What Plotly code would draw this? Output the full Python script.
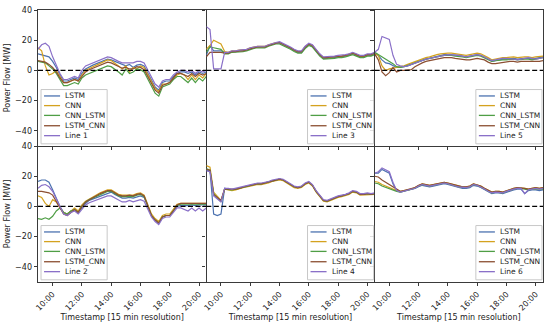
import pandas as pd
import plotly.graph_objects as go
from plotly.subplots import make_subplots

# ---------------- data ----------------
times = pd.date_range("2021-06-01 09:00", "2021-06-01 20:30", freq="15min")
model_names = ["LSTM", "CNN", "CNN_LSTM", "LSTM_CNN"]

# Line 1
l1_lstm = [11, 10.5, 10, 9, 6, 2, -3, -7, -7, -6, -5, -6, -2, 1, 2.5, 3.5, 4.5, 5.5, 6.5, 7.5, 7, 6, 4.5, 4, 3, 4, 2, 3.5, 4, 3, -2, -7, -11, -13, -8, -7, -7, -4, -2, -1, -1, -2, -1, -3, -1, -2, -1]
l1_cnn = [15, 13, 3, -3, -2, 0, -4, -8, -8, -7, -6, -7, -3, 0, 1.5, 2.5, 3.5, 4.5, 6, 7, 6.5, 5, 3, 1, 3, -1, 2, 1, 3, 2, -3, -8, -12, -14, -9, -9, -8, -5, -3, -2, -3, -6, -3, -6, -3, -5, -2]
l1_cnn_lstm = [6, 5.5, 5, 3, 1, -2, -6, -10, -10, -9, -8, -9, -5, -3, -2, -1, 0, 1, 2, 3, 2.5, 1, -1, -3, 1, -2, -1, 1, 0.5, -1, -6, -11, -15, -17, -11, -10, -9, -6, -4, -4, -6, -8, -5, -8, -5, -7, -4]
l1_lstm_cnn = [6.5, 6, 5.5, 4, 2, -1, -5, -8, -8, -7, -6, -7, -4, -1, 0.5, 1.5, 2.5, 3.5, 4.5, 5.5, 5, 4, 2.5, 1.5, 2, 1, 1, 2.5, 2, 0.5, -4, -9, -13, -15, -10, -9, -8, -5, -2, -2, -3, -4, -2, -4, -2, -3, -2]
l1_actual = [14, 17, 18, 16, 9, 3, -2, -6, -6, -5, -4, -5, 0, 3, 4, 5, 6, 7, 8, 9, 8.5, 7, 6, 5, 5, 4.5, 5, 6, 6, 5, 0, -5, -9, -11, -7, -6, -6, -3, -1, 0, 0, -1, 0, -2, 0, -1, 0]

# Line 2
l2_lstm = [16.5, 17.5, 17.5, 16, 11, 5, 0, -4, -5, -3, -2, -4, -1, 2, 4, 5, 6, 7, 8, 9, 9.5, 8, 6.5, 5.5, 5.5, 6, 5.5, 6.5, 7, 6, 0, -6, -9, -11, -7, -6, -6, -3, 0, 0.5, 0.5, 0.5, 1, 0.5, 1, 1, 1]
l2_cnn = [7, 6, 2, 0, 4.5, 3, -1, -4, -5, -3, -1, -3, 1, 3.5, 5, 6, 7.5, 9, 10, 11, 11, 9.5, 8, 7.5, 7.5, 8, 7.5, 8.5, 9, 7.5, 1, -5, -8, -10, -6, -5, -5, -2, 1.5, 2, 2, 2, 2, 2, 2, 2, 2]
l2_cnn_lstm = [-8, -8.5, -7.5, -8.5, -6.5, -3, -1, -4, -5, -3, -2, -4, 0, 3, 4.5, 5.5, 7, 8, 9, 10, 10, 8.5, 7, 6.5, 6.5, 7, 6.5, 7.5, 8, 6.5, 0, -6, -9, -11, -7, -6, -6, -3, 0.5, 1.5, 1.5, 1.5, 1.5, 1.5, 1.5, 1.5, 1.5]
l2_lstm_cnn = [10, 10, 9.5, 9, 7.5, 3, -1, -5, -6, -4, -2, -4, 0, 3, 4.5, 5.5, 7, 8.5, 9.5, 10.5, 10.5, 9, 7.5, 7, 7, 7.5, 7, 8, 8.5, 7, 0, -6, -9, -11, -7, -6, -6, -3, 1, 2, 2, 2, 2, 2, 2, 2, 2]
l2_actual = [12, 14, 14.5, 13, 10, 5, 0, -5, -6, -4, -3, -5, -2, 1, 2.5, 3.5, 4.5, 5.5, 6.5, 7, 7, 5.5, 4, 3, 3, 4, 3, 4, 4.5, 3.5, -2, -7, -10, -12, -8, -7, -7, -4, -1, -1, -2, -3, -1, -3, -1, -3, -1]

# Line 3
l3_lstm = [10, 16.5, 13, 13, 13, 12, 11.5, 12.5, 12.5, 13, 13, 13.5, 14.5, 15, 15.5, 15.5, 15.5, 16.5, 17.5, 18, 18, 17, 16, 14.5, 13, 12, 12, 15, 17, 16, 13, 10, 8, 8, 8.5, 8.5, 9, 9, 9.5, 10, 11, 10, 9, 9, 10, 10, 11]
l3_cnn = [14, 16.5, 20, 19, 17.5, 12.5, 12, 13, 13, 13.5, 13.5, 14, 15, 15.5, 16, 16, 16, 17, 18, 18.5, 18.5, 17.5, 16.5, 15, 13.5, 12.5, 12.5, 15.5, 17.5, 16.5, 13.5, 10.5, 8.5, 8.5, 9, 9, 9.5, 9.5, 10, 10.5, 11.5, 10.5, 9.5, 9.5, 10.5, 10.5, 11.5]
l3_cnn_lstm = [12, 15.5, 15, 14.5, 14, 11, 11, 12, 12, 12.5, 12.5, 13, 14, 14.5, 15, 15, 15, 16, 17, 17.5, 17.5, 16.5, 15.5, 14, 12.5, 11.5, 11.5, 14.5, 16.5, 15.5, 12.5, 9.5, 7.5, 7.5, 8, 8, 8.5, 8.5, 9, 9.5, 10.5, 9.5, 8.5, 8.5, 9.5, 9.5, 10.5]
l3_lstm_cnn = [9, 12, 12, 12, 12, 11.5, 11.5, 12.5, 12.5, 13, 13, 13.5, 14.5, 15, 15.5, 15.5, 15.5, 16.5, 17.5, 18, 18.5, 17.5, 16.5, 15, 13.5, 12.5, 12.5, 15.5, 17.5, 16.5, 13.5, 10.5, 8.5, 8.5, 9, 9, 9.5, 9.5, 10, 10.5, 11.5, 10.5, 9.5, 9.5, 10.5, 10.5, 11.5]
l3_actual = [29, 27, 1, 1, 1, 12, 12, 13, 13, 13.5, 13.5, 14, 15, 15.5, 16, 16, 16, 17, 18, 18.5, 19, 18, 17, 15.5, 14, 13, 13, 16, 18, 17, 14, 11, 9, 9, 9.5, 9.5, 10, 10, 10.5, 11, 12, 11, 10, 10, 11, 11, 12]

# Line 4
l4_lstm = [24, 23.5, -5, -6, -5, 12, 11.5, 11, 11.5, 12, 13, 13.5, 14, 14.5, 15, 15, 15.5, 16, 17, 17.5, 18, 17.5, 16, 14.5, 13, 12.5, 13, 15, 16, 14, 10, 7, 4, 3.5, 4.5, 6, 6.5, 7, 7.5, 8.5, 10, 9.5, 8, 8, 8.5, 8, 8.5]
l4_cnn = [27, 26, 9.5, 7, 4, 11.5, 11, 10.5, 11, 11.5, 12.5, 13, 13.5, 14, 14.5, 14.5, 15, 15.5, 16.5, 17, 17.5, 17, 15.5, 14, 12.5, 12, 12.5, 14.5, 15.5, 13.5, 9.5, 6.5, 3.5, 3, 4, 5.5, 6, 6.5, 7, 8, 9.5, 9, 7.5, 7.5, 8, 7.5, 8]
l4_cnn_lstm = [25, 24, 8.5, 6, 3, 11.5, 11, 11, 11.5, 12, 13, 13.5, 14, 14.5, 15, 15, 15.5, 16, 17, 17.5, 18, 17.5, 16, 14.5, 13, 12.5, 13, 15, 16, 14, 10, 7, 4, 3.5, 4.5, 6, 6.5, 7, 7.5, 8.5, 10, 9.5, 8, 8, 8.5, 8, 8.5]
l4_lstm_cnn = [24.5, 24, 8, 6, 4, 11.5, 11.5, 11, 11.5, 12, 13, 13.5, 14, 14.5, 15, 15, 15.5, 16, 17, 17.5, 18, 17.5, 16, 14.5, 13, 12.5, 13, 15, 16, 14, 10, 7, 4, 3.5, 4.5, 6, 6.5, 7, 7.5, 8.5, 10, 9.5, 8, 8, 8.5, 8, 8.5]
l4_actual = [23.5, 23, 7, 5, 3, 12, 12, 11.5, 12, 12.5, 13.5, 14, 14.5, 15, 15.5, 15.5, 16, 16.5, 17.5, 18, 18.5, 18, 16.5, 15, 13.5, 13, 13.5, 15.5, 16.5, 14.5, 10.5, 7.5, 4.5, 4, 5, 6.5, 7, 7.5, 8, 9, 10.5, 10, 8.5, 8.5, 9, 8.5, 9]

# Line 5
l5_lstm = [12, 10, 7, 5, 4.5, 3.5, 2, 2, 2.5, 3, 4, 5, 6, 7, 7.5, 8, 8.5, 9.5, 10, 10.5, 10.5, 10.5, 10, 10, 9.5, 9, 9.5, 10, 10.5, 10, 9, 7.5, 6, 6.5, 7, 7.5, 7.5, 8, 8, 7.5, 8, 8, 8, 7.5, 8, 8.5, 9]
l5_cnn = [11, 10, 3, 0, 1, 1.5, 2, 2.5, 3, 4, 5, 6, 7, 8, 8.5, 9, 9.5, 10.5, 11, 11.5, 11.5, 11.5, 11, 11, 10.5, 10, 10.5, 11, 11.5, 11, 10, 8.5, 7, 7.5, 8, 8.5, 8.5, 9, 9, 8.5, 9, 9, 9, 8.5, 9, 9.5, 9.5]
l5_cnn_lstm = [12, 10.5, 9, 7.5, 6.5, 4.5, 2.5, 2, 2.5, 3, 4, 5, 6, 7, 7.5, 8, 8.5, 9.5, 10, 10, 10, 10, 9.5, 9.5, 9, 8.5, 9, 9.5, 10, 9.5, 8.5, 7, 6, 6.5, 7, 7, 7, 7.5, 7.5, 7, 7.5, 7.5, 7.5, 7, 7.5, 8, 8.5]
l5_lstm_cnn = [11, 7, -1, -3.5, -1.5, 2, -1, 0, 0, 0, 0.5, 2.5, 4, 5, 6, 6.5, 7, 7.5, 8, 8.5, 8.5, 8.5, 8, 7.5, 7, 7, 7, 7.5, 8, 7.5, 7, 5.5, 4.5, 4.5, 5, 5.5, 6, 6, 6, 5.5, 6, 6, 6, 5.5, 6, 6, 6.5]
l5_actual = [12, 14, 22.5, 21.5, 20.5, 10, 4, 3, 2.5, 3, 4, 5, 6, 7, 7.5, 8, 8.5, 9.5, 10, 10, 10.5, 10.5, 10, 10, 9.5, 9, 9.5, 10, 10.5, 10, 9, 7.5, 6.5, 7, 7.5, 8, 8, 8, 7.5, 7, 7.5, 8, 8.5, 8, 7.5, 8, 8.5]

# Line 6
l6_lstm = [22, 22, 24.5, 23, 22, 15, 10.5, 9.5, 10, 10.5, 11, 12, 13, 14, 13.5, 13, 13.5, 14, 14.5, 15, 14.5, 14, 13, 12.5, 12, 12, 12.5, 14, 13.5, 12.5, 11, 9.5, 8.5, 9, 9, 8.5, 9.5, 10.5, 11, 11.5, 11.5, 8.5, 10.5, 11, 11, 10.5, 11]
l6_cnn = [16.5, 16, 14.5, 13.5, 12.5, 11, 10.5, 10, 10.5, 11, 11.5, 12.5, 14, 15, 14.5, 14, 14.5, 15, 15.5, 16, 15.5, 15, 14, 13.5, 13, 13, 13.5, 15, 14.5, 13.5, 12, 10.5, 9.5, 10, 10, 9.5, 10.5, 11.5, 12, 12.5, 12.5, 12, 11.5, 12, 12.5, 12, 12.5]
l6_cnn_lstm = [15.5, 15, 13.5, 12.5, 11.5, 10.5, 10, 9.5, 10, 10.5, 11, 12, 13.5, 14.5, 14, 13.5, 14, 14.5, 15, 15.5, 15, 14.5, 13.5, 13, 12.5, 12.5, 13, 14.5, 14, 13, 11.5, 10, 9, 9.5, 9.5, 9, 10, 11, 11.5, 12, 12, 11.5, 11, 11.5, 11.5, 11, 11.5]
l6_lstm_cnn = [20, 19.5, 17.5, 16, 14, 12.5, 11, 10, 10.5, 11, 11.5, 12.5, 14, 15, 14.5, 14, 14.5, 15, 15.5, 16, 15.5, 15, 14, 13.5, 13, 13, 13.5, 15, 14.5, 13.5, 12, 10.5, 9.5, 10, 10, 9.5, 10.5, 11.5, 12, 12.5, 12.5, 12, 11.5, 12, 12.5, 12, 12.5]
l6_actual = [22, 23, 25.5, 24, 23, 16, 10.5, 9.5, 10, 10.5, 11, 12, 13.5, 14.5, 14, 13.5, 14, 14.5, 15, 15.5, 15, 14.5, 13.5, 13, 12.5, 12.5, 13, 14.5, 14, 13, 11.5, 10, 9, 9.5, 9.5, 9, 10, 11, 11.5, 12, 12, 8.5, 11, 11.5, 12, 11.5, 12]

y_ticks = [-40, -20, 0, 20, 40]
y_range = [-50, 40]

# panel: (line label, row, col, series list, legend side)
panels = [
    ("Line 1", 1, 1, [l1_lstm, l1_cnn, l1_cnn_lstm, l1_lstm_cnn, l1_actual], "left"),
    ("Line 3", 1, 2, [l3_lstm, l3_cnn, l3_cnn_lstm, l3_lstm_cnn, l3_actual], "right"),
    ("Line 5", 1, 3, [l5_lstm, l5_cnn, l5_cnn_lstm, l5_lstm_cnn, l5_actual], "right"),
    ("Line 2", 2, 1, [l2_lstm, l2_cnn, l2_cnn_lstm, l2_lstm_cnn, l2_actual], "left"),
    ("Line 4", 2, 2, [l4_lstm, l4_cnn, l4_cnn_lstm, l4_lstm_cnn, l4_actual], "right"),
    ("Line 6", 2, 3, [l6_lstm, l6_cnn, l6_cnn_lstm, l6_lstm_cnn, l6_actual], "right"),
]

colors = ["#4c72b0", "#d4a21f", "#4f9e45", "#8c4f32", "#8a70c8"]
FONT = "DejaVu Sans"
AXC = "#3a3a3a"

fig = make_subplots(rows=2, cols=3, shared_xaxes=True, shared_yaxes=True,
                    horizontal_spacing=0, vertical_spacing=0)

COL_W_PX = 168.0
leg_rows = [0.368, 0.297, 0.225, 0.149, 0.076]

for label, r, c, series, side in panels:
    names = model_names + [label]
    for name, vals, col in zip(names, series, colors):
        fig.add_trace(go.Scatter(x=times, y=vals, mode="lines", name=name,
                                 line=dict(color=col, width=1.2),
                                 showlegend=False), row=r, col=c)
    fig.add_hline(y=0, line_dash="5px,2.5px", line_color="black",
                  line_width=1.3, row=r, col=c)
    idx = (r - 1) * 3 + c
    sfx = "" if idx == 1 else str(idx)
    xr = f"x{sfx} domain"
    yr = f"y{sfx} domain"
    width = 66 / COL_W_PX
    left = 0.018 if side == "left" else 0.994 - width
    fig.add_shape(type="rect", xref=xr, yref=yr, x0=left, x1=left + width,
                  y0=0.016, y1=0.415, fillcolor="rgba(255,255,255,0.85)",
                  line=dict(color="#c8c8c8", width=1), layer="above")
    for name, col, yy in zip(names, colors, leg_rows):
        fig.add_shape(type="line", xref=xr, yref=yr,
                      x0=left + 3 / COL_W_PX, x1=left + 19 / COL_W_PX,
                      y0=yy, y1=yy, line=dict(color=col, width=1.3), layer="above")
        fig.add_annotation(xref=xr, yref=yr, x=left + 22 / COL_W_PX, y=yy,
                           text=name, showarrow=False, xanchor="left",
                           yanchor="middle", font=dict(family=FONT, size=7.5, color="#222"))

axis_common = dict(linecolor=AXC, linewidth=0.8,
                   showgrid=False, zeroline=False, ticks="outside", ticklen=3.5,
                   tickwidth=0.8, tickcolor=AXC,
                   tickfont=dict(family=FONT, size=8, color="#222"))

fig.update_xaxes(**axis_common, range=[times[0], times[-1]], tickformat="%H:%M",
                 dtick=2 * 3600 * 1000, tick0="2021-06-01 10:00", tickangle=-45)
fig.update_yaxes(**axis_common, range=y_range, tickvals=y_ticks)

for c in (1, 2, 3):
    fig.update_xaxes(showline=True, mirror=True, row=1, col=c)
    fig.update_xaxes(showline=True, mirror=False, row=2, col=c,
                     title=dict(text="Timestamp [15 min resolution]",
                                font=dict(family=FONT, size=8, color="#222"),
                                standoff=2))
for r in (1, 2):
    fig.update_yaxes(showline=True, mirror=True, row=r, col=1,
                     title=dict(text="Power Flow [MW]",
                                font=dict(family=FONT, size=8, color="#222"),
                                standoff=3))
    fig.update_yaxes(showline=False, row=r, col=2)
    fig.update_yaxes(showline=True, mirror=True, row=r, col=3)

fig.update_layout(width=550, height=326, margin=dict(l=38, r=7, t=6, b=41),
                  plot_bgcolor="white", paper_bgcolor="white",
                  font=dict(family=FONT, size=8, color="#222"), showlegend=False)

fig.write_html("out.html", config={"displayModeBar": False},
               post_script="document.body.style.margin='0px';document.body.style.padding='0px';")
